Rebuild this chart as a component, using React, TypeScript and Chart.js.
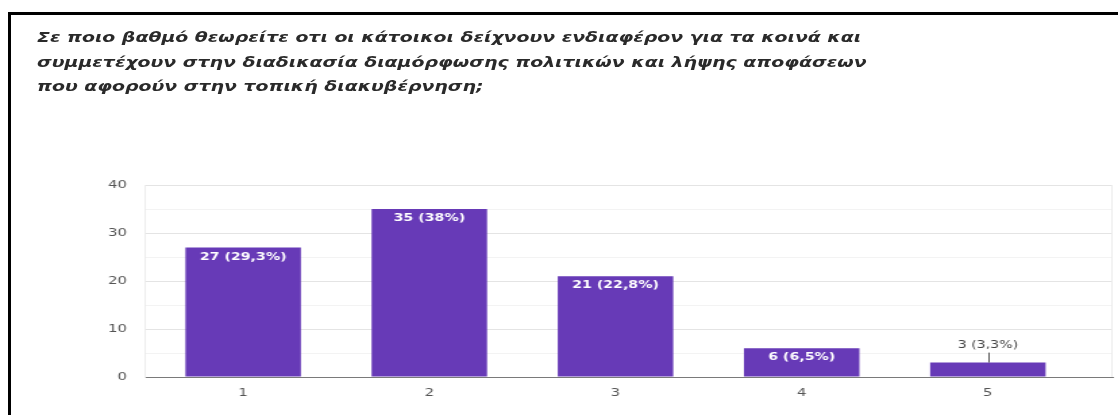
import React, { useEffect, useRef } from "react";
import { Chart, registerables } from "chart.js";

Chart.register(...registerables);

const titleLines = [
  "Σε ποιο βαθμό θεωρείτε οτι οι κάτοικοι δείχνουν ενδιαφέρον για τα κοινά και",
  "συμμετέχουν στην διαδικασία διαμόρφωσης πολιτικών και λήψης αποφάσεων",
  "που αφορούν στην τοπική διακυβέρνηση;",
];
const categories = [1, 2, 3, 4, 5];
const values = [27, 35, 21, 6, 3];
const yTicks = [0, 10, 20, 30, 40];

const W = 828;
const H = 415;
const S = 1118 / W;
const PURPLE = "#673ab7";

const total = values.reduce((a, b) => a + b, 0);
const pctLabel = (v: number) => {
  const p = (v / total) * 100;
  let s = p.toFixed(1);
  if (s.endsWith(".0")) s = s.slice(0, -2);
  return `${v} (${s.replace(".", ",")}%)`;
};

const labelPlugin = {
  id: "barLabels",
  beforeDatasetsDraw(chart: any) {
    const { ctx, chartArea } = chart;
    ctx.save();
    ctx.strokeStyle = "#ececec";
    ctx.lineWidth = 1;
    ctx.beginPath();
    const x = Math.round(chartArea.right) - 0.5;
    ctx.moveTo(x, chartArea.top);
    ctx.lineTo(x, chartArea.bottom);
    ctx.stroke();
    ctx.restore();
  },
  afterDatasetsDraw(chart: any) {
    const ctx = chart.ctx;
    const meta = chart.getDatasetMeta(0);
    ctx.save();
    meta.data.forEach((bar: any, i: number) => {
      const text = pctLabel(values[i]);
      const h = bar.base - bar.y;
      ctx.textAlign = "center";
      ctx.textBaseline = "middle";
      if (h >= 20) {
        ctx.font = "bold 10.5px 'DejaVu Sans'";
        ctx.fillStyle = "#ffffff";
        ctx.fillText(text, bar.x, bar.y + 9.5);
      } else {
        ctx.font = "10.5px 'DejaVu Sans'";
        ctx.fillStyle = "#444444";
        ctx.fillText(text, bar.x, bar.y - 17);
        ctx.strokeStyle = "#555555";
        ctx.lineWidth = 1;
        ctx.beginPath();
        ctx.moveTo(Math.round(bar.x) + 0.5, bar.y - 10);
        ctx.lineTo(Math.round(bar.x) + 0.5, bar.y);
        ctx.stroke();
      }
    });
    ctx.restore();
  },
};

export default function App() {
  const ref = useRef<HTMLCanvasElement | null>(null);

  useEffect(() => {
    if (!ref.current) return;
    const chart = new Chart(ref.current, {
      type: "bar",
      data: {
        datasets: [
          {
            data: categories.map((c, i) => ({ x: c, y: values[i] })),
            backgroundColor: PURPLE,
            borderWidth: 0,
            barPercentage: 0.62,
            categoryPercentage: 1,
          },
        ],
      },
      options: {
        animation: false,
        responsive: false,
        devicePixelRatio: 1,
        layout: { padding: { top: 185, right: 4, left: 0, bottom: 0 } },
        plugins: {
          legend: { display: false },
          tooltip: { enabled: false },
          title: { display: false },
        },
        scales: {
          x: {
            type: "linear",
            offset: false,
            min: 0.47,
            max: 5.67,
            afterBuildTicks: (scale: any) => {
              scale.ticks = categories.map((v) => ({ value: v }));
            },
            afterFit: (scale: any) => {
              scale.height = 38;
            },
            grid: { display: false, drawTicks: false, offset: false },
            border: { display: true, color: "#7a7a7a", width: 1 },
            ticks: {
              padding: 10,
              color: "#555555",
              font: { family: "'DejaVu Sans'", size: 11 },
              callback: (v: any) => String(v),
            },
          },
          y: {
            min: 0,
            max: 40,
            afterBuildTicks: (scale: any) => {
              const t: any[] = [];
              yTicks.forEach((v, i) => {
                t.push({ value: v });
                if (i < yTicks.length - 1) t.push({ value: v + 5 });
              });
              scale.ticks = t;
            },
            afterFit: (scale: any) => {
              scale.width = 107;
            },
            grid: {
              drawTicks: false,
              color: (c: any) =>
                c.tick && yTicks.includes(c.tick.value) ? "#e4e4e4" : "#f3f3f3",
            },
            border: { display: true, color: "#ececec" },
            ticks: {
              padding: 13,
              color: "#555555",
              font: { family: "'DejaVu Sans'", size: 11 },
              callback: (v: any) => (yTicks.includes(Number(v)) ? String(v) : ""),
            },
          },
        },
      },
      plugins: [labelPlugin],
    } as any);
    return () => chart.destroy();
  }, []);

  return (
    <div
      style={{
        position: "fixed",
        left: 0,
        top: 0,
        width: 1118,
        height: 415,
        background: "#ffffff",
        overflow: "hidden",
      }}
    >
      <div
        style={{
          position: "absolute",
          left: 0,
          top: 0,
          width: W,
          height: H,
          transform: `scaleX(${S})`,
          transformOrigin: "0 0",
        }}
      >
        <div
          style={{
            position: "absolute",
            left: 27.4,
            top: 25,
            fontFamily: "'DejaVu Sans', sans-serif",
            fontWeight: "bold",
            fontStyle: "italic",
            fontSize: 14,
            lineHeight: "24.5px",
            color: "#2a2a2a",
            whiteSpace: "nowrap",
          }}
        >
          {titleLines.map((l, i) => (
            <div key={i}>{l}</div>
          ))}
        </div>
        <canvas
          ref={ref}
          width={W}
          height={H}
          style={{ position: "absolute", left: 0, top: 0, width: W, height: H, display: "block" }}
        />
      </div>
      <div
        style={{ position: "absolute", left: 8, top: 12, width: 1110, height: 3, background: "#000" }}
      />
      <div
        style={{ position: "absolute", left: 8, top: 12, width: 3, height: 403, background: "#000" }}
      />
    </div>
  );
}
